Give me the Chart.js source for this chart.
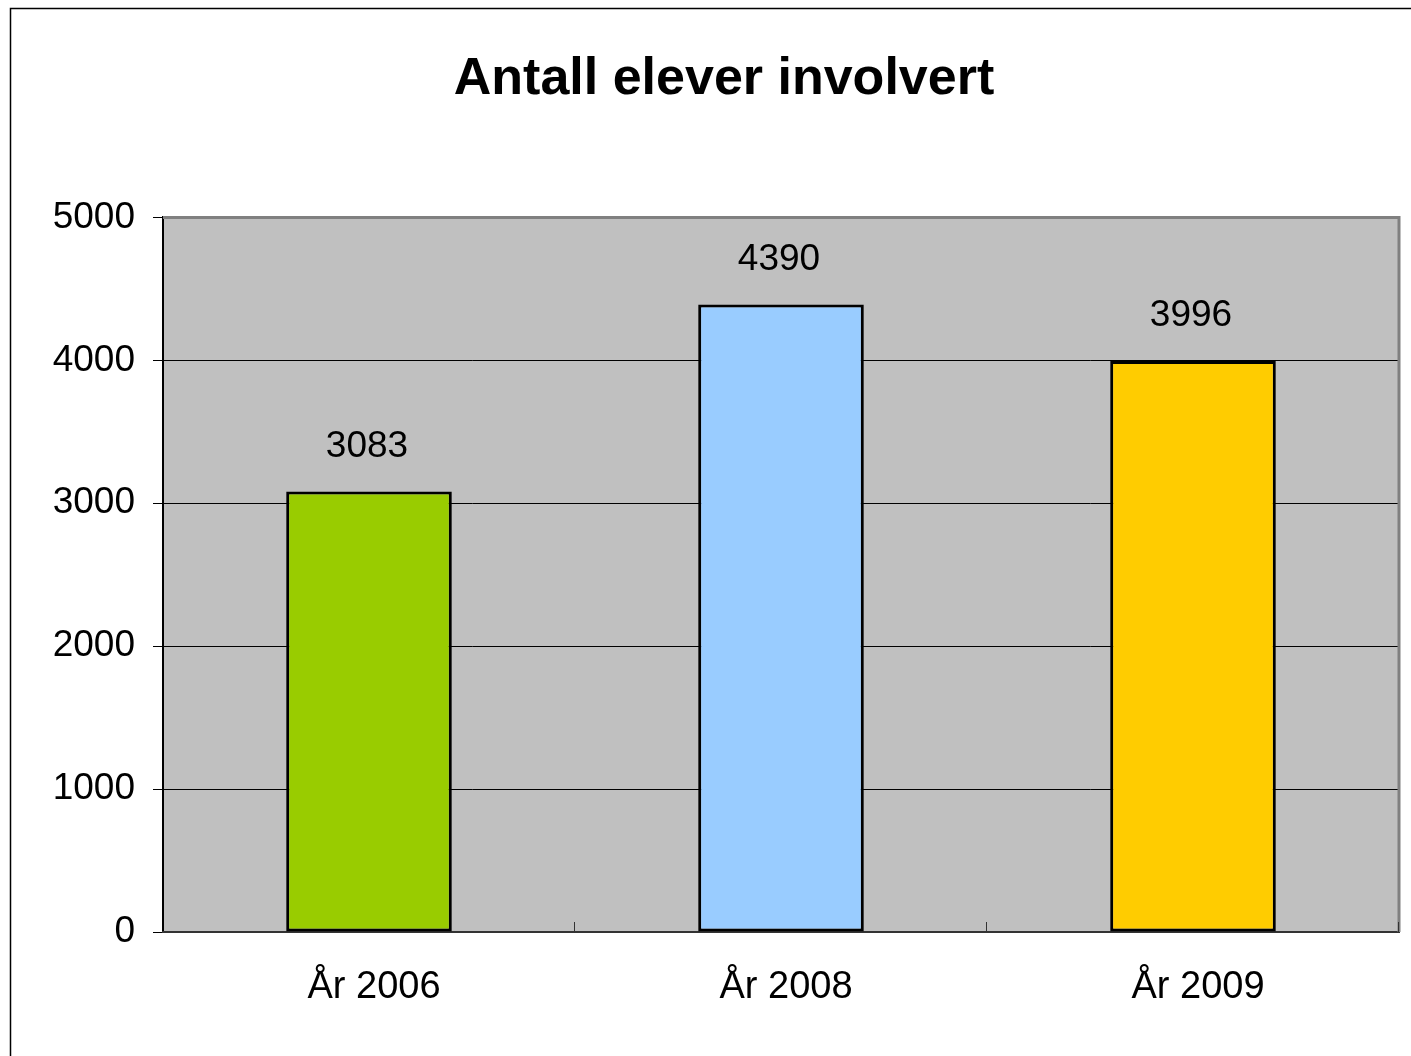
<!DOCTYPE html>
<html>
<head>
<meta charset="utf-8">
<script src="https://cdn.jsdelivr.net/npm/chart.js@4"></script>
<style>
    html, body { margin: 0; padding: 0; background: #fff; overflow: hidden; }
    #wrap { width: 1448px; height: 1056px; }
</style>
</head>
<body>
<div id="wrap"><canvas id="elevChart"></canvas></div>
<script>
// Data
const categories = ['År 2006', 'År 2008', 'År 2009'];
const studentCounts = [3083, 4390, 3996];
const barColors = ['#99CC00', '#99CCFF', '#FFCC00'];
const yTicks = [0, 1000, 2000, 3000, 4000, 5000];

const FONT = '"Liberation Sans", Arial, sans-serif';

// Frame, grey plot area, inward category ticks and value labels
const plotDecor = {
    id: 'plotDecor',
    beforeDraw(chart) {
        const { ctx, chartArea: a } = chart;
        ctx.save();
        ctx.fillStyle = '#fff';
        ctx.fillRect(0, 0, chart.width, chart.height);
        // outer chart frame
        ctx.strokeStyle = '#000';
        ctx.lineWidth = 1.5;
        ctx.beginPath();
        ctx.moveTo(10.5, chart.height + 5);
        ctx.lineTo(10.5, 8.5);
        ctx.lineTo(chart.width - 10, 8.5);
        ctx.stroke();
        // plot background
        ctx.fillStyle = '#C0C0C0';
        ctx.fillRect(a.left, a.top, a.right - a.left, a.bottom - a.top);
        ctx.restore();
    },
    afterDatasetsDraw(chart) {
        const { ctx, chartArea: a } = chart;
        const x = chart.scales.x;
        ctx.save();
        // top & right plot border
        ctx.strokeStyle = '#808080';
        ctx.lineWidth = 3;
        ctx.beginPath();
        ctx.moveTo(a.left, a.top);
        ctx.lineTo(a.right, a.top);
        ctx.lineTo(a.right, a.bottom);
        ctx.stroke();
        // inward ticks on category boundaries
        ctx.strokeStyle = '#333';
        ctx.lineWidth = 1;
        const n = categories.length;
        for (let i = 1; i <= n; i++) {
            const px = Math.round(x.left + i * (x.right - x.left) / n) - 0.5;
            ctx.beginPath();
            ctx.moveTo(px, a.bottom);
            ctx.lineTo(px, a.bottom - 10);
            ctx.stroke();
        }
        // value labels above bars
        ctx.fillStyle = '#000';
        ctx.font = '37px ' + FONT;
        ctx.textAlign = 'center';
        ctx.textBaseline = 'middle';
        chart.getDatasetMeta(0).data.forEach((bar, i) => {
            ctx.fillText(String(studentCounts[i]), bar.x - 2, bar.y - 45);
        });
        ctx.restore();
    }
};

new Chart(document.getElementById('elevChart'), {
    type: 'bar',
    data: {
        labels: categories,
        datasets: [{
            data: studentCounts,
            backgroundColor: barColors,
            borderColor: '#000',
            borderWidth: 3,
            borderSkipped: false,
            categoryPercentage: 1,
            barPercentage: 0.402
        }]
    },
    options: {
        responsive: true,
        maintainAspectRatio: false,
        animation: false,
        layout: { padding: { left: 49, right: 49, top: 0, bottom: 0 } },
        plugins: {
            legend: { display: false },
            tooltip: { enabled: false },
            title: {
                display: true,
                text: 'Antall elever involvert',
                color: '#000',
                font: { family: FONT, size: 52, weight: 'bold' },
                padding: { top: 48, bottom: 107 }
            }
        },
        scales: {
            y: {
                min: 0,
                max: 5000,
                afterBuildTicks: (s) => { s.ticks = yTicks.map(v => ({ value: v })); },
                afterFit: (s) => { s.width = 114; },
                border: { color: '#000', width: 2 },
                grid: {
                    color: (c) => (c.tick && (c.tick.value === 0 || c.tick.value === 5000)) ? 'rgba(0,0,0,0)' : '#000',
                    tickColor: '#000',
                    tickLength: 10,
                    lineWidth: 1
                },
                ticks: {
                    color: '#000',
                    padding: 18,
                    callback: (v) => String(v),
                    font: { family: FONT, size: 37 }
                }
            },
            x: {
                afterFit: (s) => { s.height = 124; },
                border: { color: '#333', width: 2 },
                grid: { display: false, drawTicks: false },
                ticks: {
                    color: '#000',
                    padding: 33,
                    labelOffset: 5,
                    font: { family: FONT, size: 38 }
                }
            }
        }
    },
    plugins: [plotDecor]
});
</script>
</body>
</html>
